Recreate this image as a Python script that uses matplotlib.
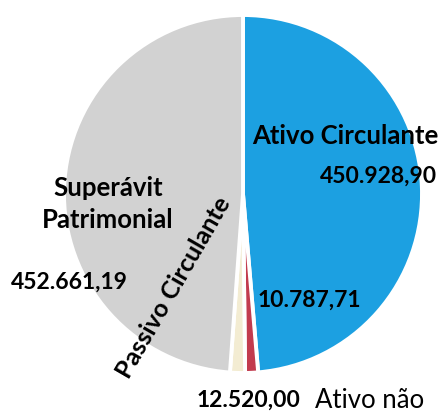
import matplotlib
matplotlib.use("Agg")
import matplotlib.pyplot as plt

categories = ["Ativo Circulante", "Ativo não circulante", "Passivo Circulante", "Superávit Patrimonial"]
values = [450928.90, 10787.71, 12520.00, 452661.19]
value_labels = ["450.928,90", "10.787,71", "12.520,00", "452.661,19"]
colors = ["#1CA0E1", "#C23B4E", "#F3ECD2", "#D2D2D2"]

W, H = 442, 411
fig = plt.figure(figsize=(W / 100, H / 100), dpi=100)
fig.patch.set_facecolor("white")

cx, cy, r = 243, 194, 179
ax = fig.add_axes([(cx - r) / W, 1 - (cy + r) / H, 2 * r / W, 2 * r / H])
ax.pie(values, colors=colors, startangle=90, counterclock=False, radius=1,
       wedgeprops=dict(edgecolor="white", linewidth=2.8))
ax.set_xlim(-1, 1)
ax.set_ylim(-1, 1)
ax.set_aspect("equal")
ax.axis("off")

FONT = "Lato"
LBL = 18.5
VAL = 16.5

def t(x, y, s, **kw):
    kw.setdefault("family", FONT)
    kw.setdefault("fontweight", "bold")
    kw.setdefault("fontsize", LBL)
    kw.setdefault("color", "black")
    fig.text(x / W, 1 - y / H, s, **kw)

t(345, 136, categories[0], ha="center", va="center")
t(437, 176, value_labels[0], ha="right", va="center", fontsize=VAL)
t(108, 204, "Superávit\nPatrimonial", ha="center", va="center", linespacing=1.4)
t(69, 282, value_labels[3], ha="center", va="center", fontsize=VAL)
t(174, 288, categories[2], ha="center", va="center", rotation=60, rotation_mode="anchor", fontsize=18)
t(309, 300, value_labels[1], ha="center", va="center", fontsize=VAL)
t(248, 400, value_labels[2], ha="center", va="center", fontsize=VAL)
t(370, 400, "Ativo não", ha="center", va="center", fontweight="normal")

fig.savefig("out.png", dpi=100)
